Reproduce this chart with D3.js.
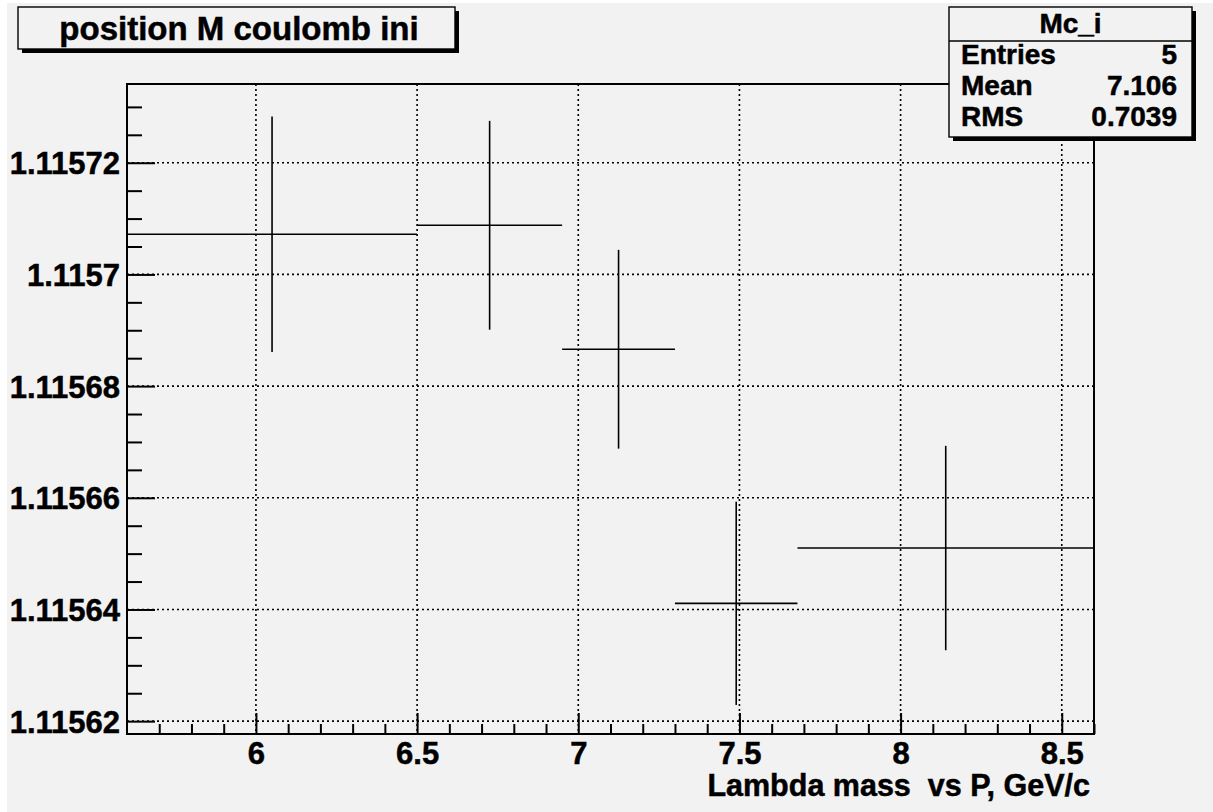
<!DOCTYPE html>
<html>
<head>
<meta charset="utf-8">
<script src="https://cdn.jsdelivr.net/npm/d3@7"></script>
<style>
  html, body { margin: 0; padding: 0; background: #ffffff; }
  svg { display: block; }
  text { font-family: "Liberation Sans", Arial, Helvetica, sans-serif; font-weight: bold; fill: #000; stroke: #000; stroke-width: 0.5px; }
</style>
</head>
<body>
<svg id="chart" width="1213" height="812"></svg>
<script>
// ---- data ----
const binEdges = [5.6, 6.5, 6.95, 7.3, 7.68, 8.6];
const binValues = [1.1157072, 1.1157088, 1.1156866, 1.1156411, 1.1156510];
const binErrors = [0.0000211, 0.0000187, 0.0000178, 0.0000182, 0.0000183];
const xTicks = [6, 6.5, 7, 7.5, 8, 8.5];
const xTickLabels = ["6", "6.5", "7", "7.5", "8", "8.5"];
const yTicks = [1.11562, 1.11564, 1.11566, 1.11568, 1.1157, 1.11572];
const yTickLabels = ["1.11562", "1.11564", "1.11566", "1.11568", "1.1157", "1.11572"];
const xDomain = [5.6, 8.6];
const yDomain = [1.1156177, 1.1157341];
const histTitle = "position M coulomb ini";
const xAxisTitle = "Lambda mass  vs P, GeV/c";
const statsName = "Mc_i";
const statsLabels = ["Entries", "Mean", "RMS"];
const statsValues = ["5", "7.106", "0.7039"];

// ---- layout ----
const W = 1213, H = 812;
const frame = {left: 127, right: 1094, top: 84, bottom: 734};
const svg = d3.select("#chart");

svg.append("rect").attr("x", 7).attr("y", 3).attr("width", W - 7).attr("height", H - 3).attr("fill", "#f2f2f2");

const x = d3.scaleLinear().domain(xDomain).range([frame.left, frame.right]);
const y = d3.scaleLinear().domain(yDomain).range([frame.bottom, frame.top]);

// minor tick values
const xMinor = d3.range(57, 87).map(d => d / 10).filter(v => !xTicks.some(t => Math.abs(t - v) < 1e-9));
const yMinor = d3.range(0, 25).map(i => 1.11562 + i * 0.000005)
  .filter(v => v >= yDomain[0] && v <= yDomain[1])
  .filter(v => !yTicks.some(t => Math.abs(t - v) < 1e-10));

// grid (dotted)
const grid = svg.append("g");
grid.selectAll("line.gx").data(xTicks).join("line")
  .attr("x1", d => x(d)).attr("x2", d => x(d))
  .attr("y1", frame.top).attr("y2", frame.bottom)
  .attr("stroke", "#000").attr("stroke-width", 1.6).attr("stroke-dasharray", "2,3");
grid.selectAll("line.gy").data(yTicks).join("line")
  .attr("x1", frame.left).attr("x2", frame.right)
  .attr("y1", d => y(d)).attr("y2", d => y(d))
  .attr("stroke", "#000").attr("stroke-width", 1.6).attr("stroke-dasharray", "2,3");

// axes
const xAxis = d3.axisBottom(x).tickValues(xTicks)
  .tickFormat((d, i) => xTickLabels[i]).tickSizeInner(-21).tickSizeOuter(0).tickPadding(8);
const xAxisMinor = d3.axisBottom(x).tickValues(xMinor).tickFormat("").tickSizeInner(-10).tickSizeOuter(0);
const yAxis = d3.axisLeft(y).tickValues(yTicks)
  .tickFormat((d, i) => yTickLabels[i]).tickSizeInner(-28).tickSizeOuter(0).tickPadding(7);
const yAxisMinor = d3.axisLeft(y).tickValues(yMinor).tickFormat("").tickSizeInner(-15).tickSizeOuter(0);

function styleAxis(g, size) {
  g.select(".domain").remove();
  g.selectAll(".tick line").attr("stroke", "#000").attr("stroke-width", 2);
  g.selectAll(".tick text").attr("font-family", "Liberation Sans, Arial, sans-serif")
    .attr("font-weight", "bold").attr("font-size", size).attr("fill", "#000");
}
svg.append("g").attr("transform", `translate(0,${frame.bottom})`).call(xAxis).call(styleAxis, 31)
  .selectAll(".tick text").attr("dy", "0.7em");
svg.append("g").attr("transform", `translate(0,${frame.bottom})`).call(xAxisMinor).call(styleAxis, 31);
svg.append("g").attr("transform", `translate(${frame.left},0)`).call(yAxis).call(styleAxis, 31)
  .selectAll(".tick text").attr("dy", "0.36em");
svg.append("g").attr("transform", `translate(${frame.left},0)`).call(yAxisMinor).call(styleAxis, 31);

// frame
svg.append("rect").attr("x", frame.left).attr("y", frame.top)
  .attr("width", frame.right - frame.left).attr("height", frame.bottom - frame.top)
  .attr("fill", "none").attr("stroke", "#000").attr("stroke-width", 2);

// histogram bins with errors
const bins = binValues.map((v, i) => ({
  x0: binEdges[i], x1: binEdges[i + 1], xc: (binEdges[i] + binEdges[i + 1]) / 2, v, e: binErrors[i]
}));
const marks = svg.append("g");
marks.selectAll("line.h").data(bins).join("line")
  .attr("x1", d => x(d.x0)).attr("x2", d => x(d.x1))
  .attr("y1", d => y(d.v)).attr("y2", d => y(d.v))
  .attr("stroke", "#000").attr("stroke-width", 1.6);
marks.selectAll("line.v").data(bins).join("line")
  .attr("x1", d => x(d.xc)).attr("x2", d => x(d.xc))
  .attr("y1", d => y(d.v + d.e)).attr("y2", d => y(d.v - d.e))
  .attr("stroke", "#000").attr("stroke-width", 1.6);

// x axis title
svg.append("text").attr("x", 1090).attr("y", 796).attr("text-anchor", "end")
  .attr("font-size", 30.5).style("white-space", "pre").text(xAxisTitle);

// boxes with shadow
function box(x0, y0, w, h) {
  svg.append("rect").attr("x", x0 + 4).attr("y", y0 + 4).attr("width", w).attr("height", h).attr("fill", "#000");
  svg.append("rect").attr("x", x0).attr("y", y0).attr("width", w).attr("height", h)
    .attr("fill", "#f2f2f2").attr("stroke", "#000").attr("stroke-width", 1.4);
}
box(18, 7, 437, 42);
svg.append("text").attr("x", 239).attr("y", 40).attr("text-anchor", "middle")
  .attr("font-size", 33).text(histTitle);

// stats box
const sb = {x: 949, y: 7, w: 243, h: 130};
box(sb.x, sb.y, sb.w, sb.h);
svg.append("line").attr("x1", sb.x).attr("x2", sb.x + sb.w).attr("y1", 41).attr("y2", 41)
  .attr("stroke", "#000").attr("stroke-width", 1.4);
svg.append("text").attr("x", sb.x + sb.w / 2).attr("y", 33).attr("text-anchor", "middle")
  .attr("font-size", 28).text(statsName);
const rowY = [64, 95, 126];
svg.selectAll("text.sl").data(statsLabels).join("text")
  .attr("x", 961).attr("y", (d, i) => rowY[i]).attr("font-size", 28).text(d => d);
svg.selectAll("text.sv").data(statsValues).join("text")
  .attr("x", 1177).attr("y", (d, i) => rowY[i]).attr("text-anchor", "end").attr("font-size", 28).text(d => d);
</script>
</body>
</html>
